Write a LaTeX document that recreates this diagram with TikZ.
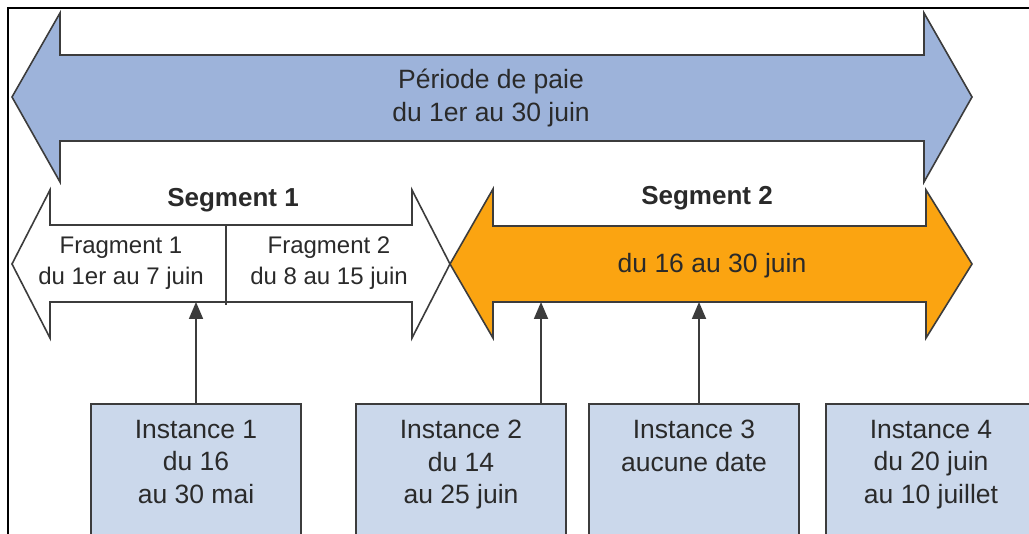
\documentclass[tikz,border=0pt]{standalone}
\usepackage{fontspec}
\setmainfont{Liberation Sans}
\usetikzlibrary{arrows.meta}
\definecolor{bluearrow}{HTML}{9DB3DA}
\definecolor{boxfill}{HTML}{CBD8EB}
\definecolor{orangearrow}{HTML}{FBA411}
\definecolor{edge}{HTML}{3C3C3C}
\definecolor{txt}{HTML}{2A2A2A}
\tikzset{
  outline/.style={draw=edge, line width=1.6pt, line join=miter},
  lbl/.style={text=txt, font=\fontsize{26.5}{33}\selectfont, align=center, inner sep=0pt},
  bold lbl/.style={lbl, font=\fontsize{26}{33}\selectfont\bfseries},
  frag lbl/.style={lbl, font=\fontsize{24}{31}\selectfont},
  instbox/.style={outline, fill=boxfill, minimum width=210pt, minimum height=160pt, anchor=north, inner sep=0pt},
  insttext/.style={lbl, anchor=north, font=\fontsize{26.5}{32.5}\selectfont},
  ptr/.style={draw=edge, line width=1.8pt, -{Triangle[length=17pt,width=14pt]}}
}
\begin{document}
\begin{tikzpicture}[x=1pt,y=-1pt]
\useasboundingbox (0,0) rectangle (1029,534);
\clip (0,0) rectangle (1029,534);
\fill[white] (0,0) rectangle (1029,534);
% frame
\draw[black, line width=2.6pt] (1035,8) -- (8,8) -- (8,540);
% big arrow
\draw[outline, fill=bluearrow] (12,97) -- (60,13) -- (60,55) -- (924,55) -- (924,13) -- (972,97) -- (924,182) -- (924,141) -- (60,141) -- (60,182) -- cycle;
\node[lbl] (periode) at (491,98) {Période de paie\\du 1er au 30 juin};
% segment 1
\draw[outline, fill=white] (12,264) -- (50,190) -- (50,225) -- (412,225) -- (412,190) -- (450,264) -- (412,338) -- (412,302) -- (50,302) -- (50,338) -- cycle;
\draw[outline] (226,225) -- (226,305);
\node[bold lbl] (seg1) at (233,200) {Segment 1};
\node[frag lbl] (frag1) at (121,263) {Fragment 1\\du 1er au 7 juin};
\node[frag lbl] (frag2) at (329,263) {Fragment 2\\du 8 au 15 juin};
% segment 2
\draw[outline, fill=orangearrow] (450,264) -- (493,189) -- (493,226) -- (926,226) -- (926,190) -- (972,264) -- (926,338) -- (926,302) -- (493,302) -- (493,338) -- cycle;
\node[bold lbl] (seg2) at (707,198) {Segment 2};
\node[lbl] (seg2txt) at (712,266) {du 16 au 30 juin};
% anchor points on segment bottoms
\coordinate (p1) at (196,302);
\coordinate (p2) at (541,302);
\coordinate (p3) at (699,302);
% instance boxes
\node[instbox] (i1) at (196,403) {};
\node[instbox] (i2) at (461,403) {};
\node[instbox] (i3) at (694,403) {};
\node[instbox] (i4) at (931,403) {};
\node[insttext] (t1) at ([yshift=-17pt]i1.north) {Instance 1\\du 16\\au 30 mai};
\node[insttext] (t2) at ([yshift=-17pt]i2.north) {Instance 2\\du 14\\au 25 juin};
\node[insttext] (t3) at ([yshift=-17pt]i3.north) {Instance 3\\aucune date};
\node[insttext] (t4) at ([yshift=-17pt]i4.north) {Instance 4\\du 20 juin\\au 10 juillet};
% pointers
\draw[ptr] (i1.north) -- (p1);
\draw[ptr] (i2.north -| p2) -- (p2);
\draw[ptr] (i3.north -| p3) -- (p3);
\end{tikzpicture}
\end{document}
